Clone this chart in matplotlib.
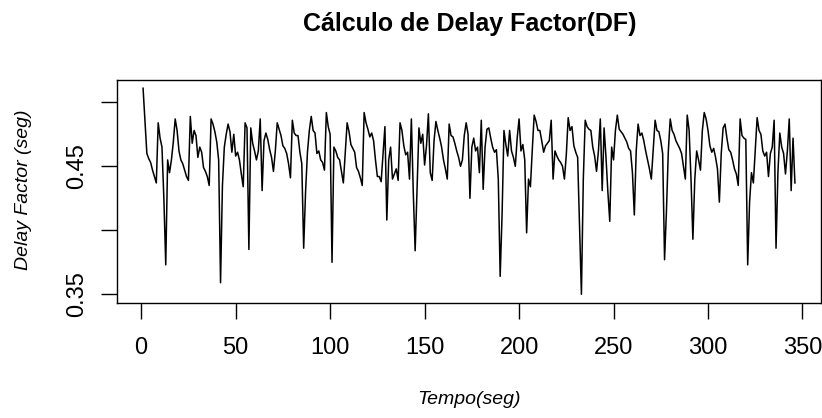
import numpy as np
import matplotlib
matplotlib.use("Agg")
import matplotlib.pyplot as plt

# Delay Factor values (seg), one per second
df_001_043 = [0.511, 0.486, 0.460, 0.456, 0.453, 0.447, 0.442, 0.437, 0.484, 0.472,
              0.465, 0.425, 0.373, 0.455, 0.445, 0.455, 0.469, 0.487, 0.478, 0.462,
              0.455, 0.452, 0.447, 0.442, 0.439, 0.489, 0.468, 0.478, 0.474, 0.457,
              0.465, 0.461, 0.449, 0.446, 0.442, 0.435, 0.487, 0.483, 0.477, 0.469,
              0.455, 0.359, 0.435]
df_044_086 = [0.465, 0.475, 0.483, 0.477, 0.461, 0.475, 0.458, 0.461, 0.455, 0.444,
              0.434, 0.484, 0.480, 0.385, 0.480, 0.468, 0.462, 0.455, 0.462, 0.487,
              0.431, 0.470, 0.476, 0.471, 0.463, 0.457, 0.446, 0.462, 0.484, 0.479,
              0.474, 0.466, 0.464, 0.460, 0.452, 0.441, 0.486, 0.476, 0.474, 0.474,
              0.461, 0.452, 0.386]
df_087_130 = [0.430, 0.461, 0.478, 0.489, 0.478, 0.476, 0.460, 0.462, 0.455, 0.453,
              0.447, 0.492, 0.481, 0.475, 0.375, 0.465, 0.462, 0.457, 0.455, 0.446,
              0.437, 0.461, 0.484, 0.477, 0.467, 0.464, 0.461, 0.449, 0.446, 0.441,
              0.435, 0.492, 0.484, 0.479, 0.473, 0.476, 0.470, 0.455, 0.442, 0.442,
              0.438, 0.459, 0.481, 0.408]
df_131_174 = [0.455, 0.465, 0.440, 0.444, 0.448, 0.439, 0.484, 0.478, 0.466, 0.459,
              0.461, 0.440, 0.487, 0.430, 0.384, 0.432, 0.480, 0.468, 0.475, 0.451,
              0.466, 0.491, 0.445, 0.439, 0.470, 0.485, 0.478, 0.472, 0.465, 0.455,
              0.448, 0.440, 0.483, 0.474, 0.473, 0.468, 0.462, 0.457, 0.450, 0.455,
              0.474, 0.484, 0.475, 0.425]
df_175_218 = [0.465, 0.472, 0.462, 0.465, 0.445, 0.486, 0.432, 0.465, 0.479, 0.480,
              0.472, 0.465, 0.461, 0.463, 0.440, 0.364, 0.412, 0.478, 0.467, 0.458,
              0.478, 0.462, 0.457, 0.450, 0.472, 0.487, 0.462, 0.467, 0.455, 0.398,
              0.440, 0.434, 0.463, 0.490, 0.485, 0.478, 0.478, 0.470, 0.461, 0.466,
              0.468, 0.470, 0.486, 0.440]
df_219_261 = [0.462, 0.458, 0.455, 0.453, 0.450, 0.440, 0.459, 0.488, 0.478, 0.481,
              0.466, 0.461, 0.457, 0.404, 0.350, 0.440, 0.486, 0.481, 0.479, 0.478,
              0.465, 0.458, 0.446, 0.462, 0.487, 0.431, 0.480, 0.457, 0.430, 0.407,
              0.465, 0.455, 0.478, 0.490, 0.479, 0.477, 0.475, 0.472, 0.469, 0.464,
              0.462, 0.445, 0.412]
df_262_304 = [0.462, 0.483, 0.474, 0.476, 0.470, 0.462, 0.455, 0.448, 0.440, 0.463,
              0.486, 0.478, 0.477, 0.470, 0.460, 0.377, 0.415, 0.462, 0.487, 0.478,
              0.475, 0.470, 0.467, 0.464, 0.460, 0.450, 0.440, 0.490, 0.478, 0.440,
              0.393, 0.440, 0.462, 0.455, 0.447, 0.478, 0.492, 0.487, 0.478, 0.466,
              0.461, 0.464, 0.457]
df_305_346 = [0.448, 0.422, 0.460, 0.480, 0.483, 0.472, 0.463, 0.461, 0.455, 0.448,
              0.444, 0.435, 0.487, 0.474, 0.472, 0.471, 0.373, 0.422, 0.445, 0.437,
              0.462, 0.488, 0.478, 0.475, 0.462, 0.458, 0.461, 0.442, 0.460, 0.465,
              0.486, 0.386, 0.445, 0.476, 0.465, 0.460, 0.444, 0.462, 0.487, 0.431,
              0.472, 0.437]

delay_factor = np.array(df_001_043 + df_044_086 + df_087_130 + df_131_174 +
                        df_175_218 + df_219_261 + df_262_304 + df_305_346)
tempo = np.arange(1, len(delay_factor) + 1)

x_ticks = [0, 50, 100, 150, 200, 250, 300, 350]
y_ticks = [0.35, 0.40, 0.45, 0.50]
y_tick_labels = ["0.35", "", "0.45", ""]

title = "Cálculo de Delay Factor(DF)"
xlabel = "Tempo(seg)"
ylabel = "Delay Factor (seg)"

plt.rcParams["font.family"] = ["Liberation Sans", "DejaVu Sans"]

W, H = 822, 418
fig = plt.figure(figsize=(W / 100, H / 100), dpi=100)
left, right, top, bottom = 117, 821, 80, 302.5
ax = fig.add_axes([left / W, 1 - bottom / H, (right - left) / W, (bottom - top) / H])

ax.plot(tempo, delay_factor, color="black", linewidth=1.1)

# R-style 4% padding
def pad(lo, hi):
    r = hi - lo
    return lo - 0.04 * r, hi + 0.04 * r

ax.set_xlim(*pad(tempo.min(), tempo.max()))
ax.set_ylim(*pad(delay_factor.min(), delay_factor.max()))

ax.set_xticks(x_ticks)
ax.set_xticklabels([str(t) for t in x_ticks])
ax.set_yticks(y_ticks)
ax.set_yticklabels(y_tick_labels, rotation=90, va="center")

for s in ax.spines.values():
    s.set_linewidth(1.0)
    s.set_color("black")

ax.tick_params(axis="both", direction="out", length=11.5, width=1.0,
               labelsize=17, colors="black")
ax.tick_params(axis="x", pad=13)
ax.tick_params(axis="y", pad=9)

fig.text(470 / W, 1 - 24 / H, title, fontsize=18, fontweight="bold",
         ha="center", va="center")
fig.text(469 / W, 1 - 400 / H, xlabel, fontsize=14, fontstyle="italic",
         ha="center", va="center")
fig.text(24 / W, 1 - 190 / H, ylabel, fontsize=14, fontstyle="italic",
         ha="center", va="center", rotation=90)

fig.savefig("out.png", dpi=100)
